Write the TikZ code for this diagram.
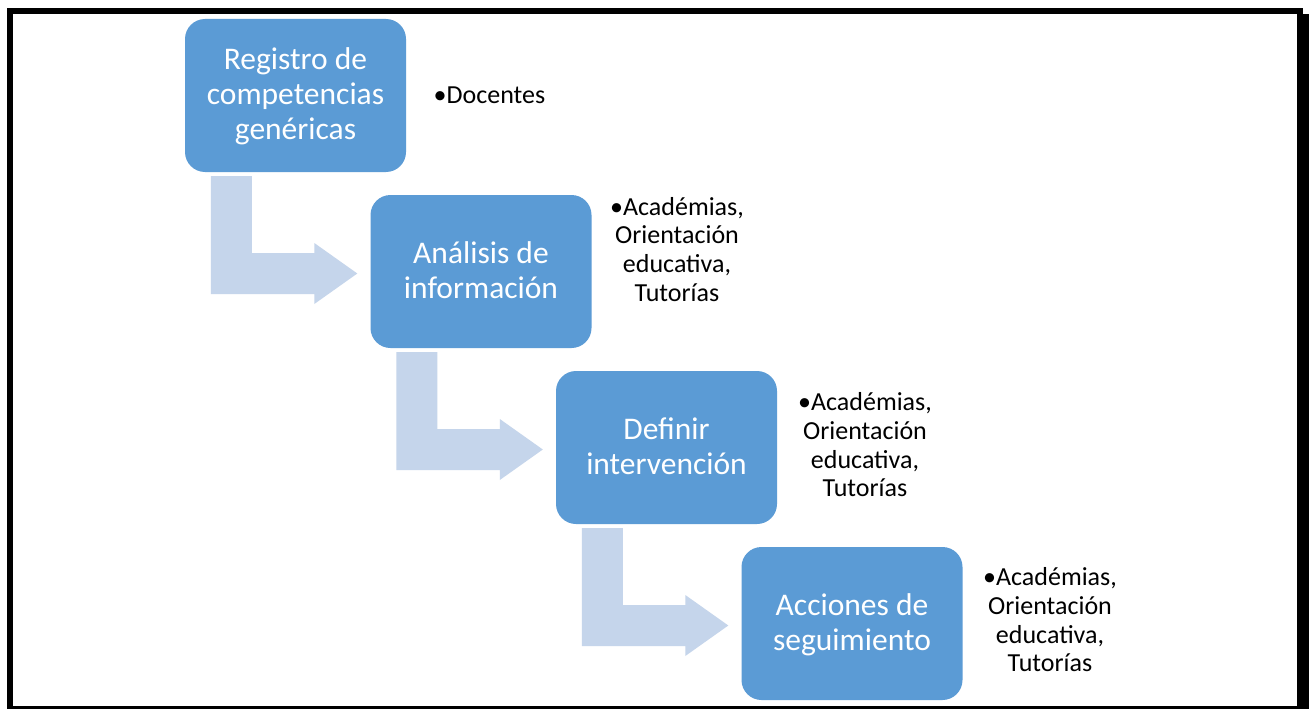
\documentclass[tikz,border=0pt]{standalone}
\usepackage{fontspec}
\setmainfont{Carlito}
\usetikzlibrary{calc}
\definecolor{boxblue}{HTML}{5B9BD5}
\definecolor{arrowblue}{HTML}{C5D5EB}
\newcommand\boxfont{\fontsize{31.5}{35}\selectfont}
\newcommand\sidefont{\fontsize{26}{28.7}\selectfont}
\newcommand\firststrut{\rule{0pt}{28.5pt}}
\newcommand\bendconnect[2]{%
  \coordinate (#1A) at ($(#1.south west)+(26,4)$);
  \coordinate (#1B) at ($(#1.south west)+(67,4)$);
  \coordinate (#1T) at ($(#2.west)+(-13,2)$);
  \coordinate (#1U) at ($(#1T)+(-43,-20.5)$);
  \coordinate (#1V) at ($(#1T)+(-43,-30.5)$);
  \coordinate (#1W) at ($(#1T)+(-43,30.5)$);
  \coordinate (#1X) at ($(#1T)+(-43,20.5)$);
  \fill[bendarrow] (#1A) -- (#1B) -- (#1B |- #1U) -- (#1U) -- (#1V) -- (#1T)
    -- (#1W) -- (#1X) -- (#1A |- #1X) -- cycle;
}
\begin{document}
\begin{tikzpicture}[x=1pt,y=-1pt,
  stepbox/.style={rectangle, rounded corners=20pt, fill=boxblue, text=white,
    minimum width=221pt, minimum height=153pt, inner sep=0pt, font=\boxfont},
  sidetext/.style={anchor=base, inner sep=0pt, font=\sidefont, text=black},
  bendarrow/.style={fill=arrowblue},
  frame/.style={fill=black}]
\useasboundingbox (0,0) rectangle (1309,709);
\fill[white] (0,0) rectangle (1309,709);
% frame
\fill[frame] (7,8) rectangle (1303,14);
\fill[frame] (7,8) rectangle (13,709);
\fill[frame] (1297,14) rectangle (1309,709);
\fill[frame] (7,706) rectangle (1309,709);
% boxes
\node[stepbox] (b1) at (295.5,95.5) {\begin{tabular}{@{}c@{}}\firststrut Registro de\\competencias\\genéricas\end{tabular}};
\node[stepbox] (b2) at (481,271.5) {\begin{tabular}{@{}c@{}}\firststrut Análisis de\\información\end{tabular}};
\node[stepbox] (b3) at (666.5,447.5) {\begin{tabular}{@{}c@{}}\firststrut Definir\\intervención\end{tabular}};
\node[stepbox] (b4) at (852,623.5) {\begin{tabular}{@{}c@{}}\firststrut Acciones de\\seguimiento\end{tabular}};
% bent arrows
\bendconnect{b1}{b2}
\bendconnect{b2}{b3}
\bendconnect{b3}{b4}
% side texts
\node[sidetext] (t1) at (489.5,103) {•Docentes};
\node[sidetext] (t2) at (677,215) {\begin{tabular}[t]{@{}c@{}}•Académias,\\Orientación\\educativa,\\Tutorías\end{tabular}};
\node[sidetext] (t3) at (865,410.7) {\begin{tabular}[t]{@{}c@{}}•Académias,\\Orientación\\educativa,\\Tutorías\end{tabular}};
\node[sidetext] (t4) at (1050,585.7) {\begin{tabular}[t]{@{}c@{}}•Académias,\\Orientación\\educativa,\\Tutorías\end{tabular}};
\end{tikzpicture}
\end{document}
